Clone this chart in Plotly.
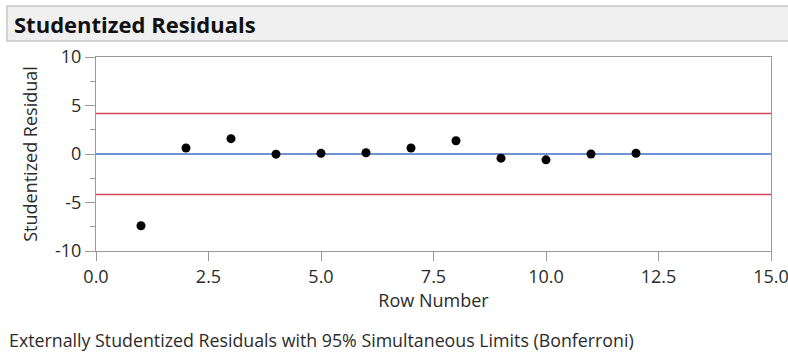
import plotly.graph_objects as go

row_number = [1, 2, 3, 4, 5, 6, 7, 8, 9, 10, 11, 12]
studentized_residual = [-7.4, 0.62, 1.58, -0.02, 0.07, 0.13, 0.62, 1.37, -0.43, -0.6, 0.0, 0.08]
upper_limit = 4.17
lower_limit = -4.17
center = 0.0
x_ticks = [0, 2.5, 5, 7.5, 10, 12.5, 15]
x_tick_labels = ["0.0", "2.5", "5.0", "7.5", "10.0", "12.5", "15.0"]
y_ticks = [-10, -5, 0, 5, 10]
y_tick_labels = ["-10", "-5", "0", "5", "10"]

FONT = "Open Sans"
TXT = "#2b2b2b"
AX = "#9a9a9a"
W, H = 788, 354
L, R, T, B = 96, 17, 57, 103
pw, ph = W - L - R, H - T - B

def px(xp):
    return (xp - L) / pw

def py(yp):
    return (H - B - yp) / ph

fig = go.Figure()
fig.add_trace(go.Scatter(x=[0, 15], y=[upper_limit, upper_limit], mode="lines",
                         line=dict(color="#d0455a", width=1.5), hoverinfo="skip", showlegend=False))
fig.add_trace(go.Scatter(x=[0, 15], y=[lower_limit, lower_limit], mode="lines",
                         line=dict(color="#d0455a", width=1.5), hoverinfo="skip", showlegend=False))
fig.add_trace(go.Scatter(x=[0, 15], y=[center, center], mode="lines",
                         line=dict(color="#3f6fc4", width=1.5), hoverinfo="skip", showlegend=False))
fig.add_trace(go.Scatter(x=row_number, y=studentized_residual, mode="markers",
                         marker=dict(color="black", size=9), showlegend=False))

fig.update_layout(
    width=W, height=H,
    margin=dict(l=L, r=R, t=T, b=B, pad=0, autoexpand=False),
    paper_bgcolor="white", plot_bgcolor="white",
    font=dict(family=FONT, size=18, color=TXT),
    xaxis=dict(range=[0, 15], tickvals=x_ticks, ticktext=x_tick_labels, automargin=False,
               showgrid=False, zeroline=False, showline=True, linecolor=AX, mirror=True,
               ticks="outside", ticklen=9, tickcolor=AX, ticklabeloverflow="allow",
               tickfont=dict(size=18, color=TXT),
               title=dict(text="Row Number", font=dict(size=18, color=TXT), standoff=4)),
    yaxis=dict(range=[-10, 10], tickvals=y_ticks, ticktext=y_tick_labels, automargin=False,
               showgrid=False, zeroline=False, showline=True, linecolor=AX, mirror=True,
               ticks="outside", ticklen=10, tickcolor=AX,
               minor=dict(tickvals=[-7.5, -2.5, 2.5, 7.5], ticks="outside", ticklen=5,
                          tickcolor=AX, showgrid=False),
               tickfont=dict(size=18, color=TXT),
               title=dict(text="Studentized Residual", font=dict(size=18, color=TXT), standoff=12)),
    shapes=[dict(type="rect", xref="paper", yref="paper",
                 x0=px(7), x1=px(800), y0=py(41), y1=py(6),
                 fillcolor="#f0f0f0", line=dict(color="#c6c6c6", width=1.5), layer="below")],
    annotations=[
        dict(text="<b>Studentized Residuals</b>", xref="paper", yref="paper",
             x=px(12), y=py(24), xanchor="left", yanchor="middle", showarrow=False,
             font=dict(family=FONT, size=22, color="#111111")),
        dict(text="Externally Studentized Residuals with 95% Simultaneous Limits (Bonferroni)",
             xref="paper", yref="paper", x=px(7), y=py(340), xanchor="left", yanchor="middle",
             showarrow=False, font=dict(family=FONT, size=17.8, color=TXT)),
    ],
)

fig.write_html("out.html", config={"displayModeBar": False},
               post_script="document.body.style.margin='0';document.body.style.overflow='hidden';")
